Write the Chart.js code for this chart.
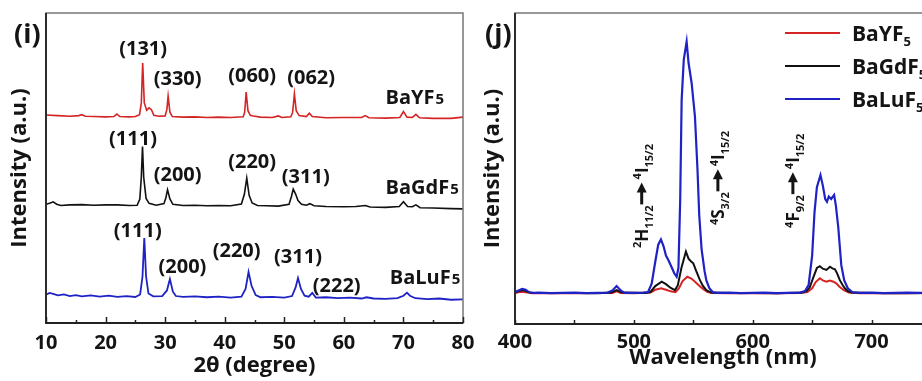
<!DOCTYPE html>
<html>
<head>
<meta charset="utf-8">
<title>BaREF5 XRD and emission spectra</title>
<script src="https://cdn.jsdelivr.net/npm/chart.js@4.4.0/dist/chart.umd.min.js"></script>
<style>
    html, body { margin: 0; padding: 0; width: 922px; height: 381px; overflow: hidden; background: #fff; }
    .panel { position: absolute; top: 0; height: 381px; }
    #panelI { left: 0; width: 480px; }
    #panelJ { left: 468px; width: 470px; }
</style>
</head>
<body>
<div class="panel" id="panelI"><canvas id="xrdChart"></canvas></div>
<div class="panel" id="panelJ"><canvas id="plChart"></canvas></div>
<script>
// ---- Panel (i): XRD patterns, [2theta, offset intensity] ----
const xrdBaYF5 = [
    [10, 67.1], [12, 66.9], [14, 66.7], [15.5, 66.9], [16, 67.2], [16.6, 66.7], [18, 66.6], [20, 66.5],
    [21.4, 66.6], [21.9, 67.4], [22.4, 66.6], [24, 66.5], [25, 66.6], [25.7, 67.2], [26.0, 71],
    [26.23, 83.9], [26.5, 71], [26.9, 68.6], [27.3, 69.4], [27.7, 68.8], [28.1, 67.0], [29, 66.7],
    [30.0, 66.8], [30.3, 69], [30.5, 73.2], [30.8, 68], [31.2, 66.6], [33, 66.4], [35, 66.5],
    [37, 66.3], [39, 66.4], [41, 66.3], [43.1, 66.5], [43.35, 68], [43.6, 74.5], [43.9, 68.5],
    [44.3, 67.0], [44.8, 66.8], [46, 66.4], [48, 66.3], [49, 66.8], [49.6, 66.3], [51.1, 66.5],
    [51.4, 68], [51.7, 73.9], [52.0, 68.5], [52.5, 66.9], [53.7, 66.6], [54.2, 67.7], [54.7, 66.6],
    [57, 66.2], [60, 66.3], [63, 66.3], [63.6, 66.9], [64.2, 66.2], [67, 66.1], [69.4, 66.3],
    [70.0, 68.2], [70.6, 66.4], [71.5, 66.3], [72.1, 67.3], [72.7, 66.2], [75, 66.0], [78, 66.0], [80, 66.4]
];
const xrdBaGdF5 = [
    [10, 38.3], [10.6, 38.6], [11.2, 39.1], [11.8, 38.3], [12.5, 37.9], [14, 38.1], [16, 38.2],
    [18, 38.0], [20, 38.1], [22, 38.1], [24, 37.9], [25.3, 38.0], [25.75, 40], [26.0, 47],
    [26.2, 56.9], [26.4, 47], [26.8, 40.2], [27.3, 38.6], [28.5, 38.0], [29.8, 38.5], [30.1, 40.2],
    [30.4, 43.0], [30.8, 40.0], [31.3, 38.3], [33, 37.9], [35, 38.0], [37, 37.8], [39, 37.9],
    [41, 37.8], [42.8, 38.4], [43.3, 41.5], [43.7, 46.7], [44.1, 41.2], [44.6, 38.7], [45.5, 37.9],
    [47, 37.8], [49, 37.7], [50.8, 38.3], [51.2, 40.8], [51.5, 43.2], [51.9, 41.6], [52.3, 39.5],
    [52.9, 38.3], [53.7, 38.0], [54.3, 38.5], [55, 37.8], [57, 37.6], [60, 37.5], [62, 37.6],
    [63.6, 37.9], [64.4, 37.4], [67, 37.3], [69.3, 37.6], [70.0, 39.1], [70.7, 37.6], [71.5, 37.5],
    [72.1, 38.1], [72.8, 37.2], [75, 37.1], [78, 36.9], [80, 36.8]
];
const xrdBaLuF5 = [
    [10, 9.1], [10.6, 9.7], [11.2, 9.4], [12, 8.9], [13, 9.2], [14, 8.7], [15, 9.0], [16, 8.6],
    [17.5, 8.9], [19, 8.5], [20.5, 8.8], [22, 8.4], [23.5, 8.7], [25, 8.4], [25.8, 9.2], [26.2, 15],
    [26.5, 27.4], [26.8, 15], [27.2, 9.5], [28, 8.6], [29.5, 8.7], [30.3, 10.5], [30.8, 14.2],
    [31.3, 10.1], [31.8, 8.7], [33, 8.4], [35, 8.6], [37, 8.3], [39, 8.5], [41, 8.2], [42.8, 8.5],
    [43.5, 11], [44.0, 16.5], [44.5, 12], [45.2, 9.0], [46, 8.3], [48, 8.4], [50, 8.2], [51.3, 8.7],
    [51.9, 11.5], [52.3, 14.5], [52.8, 11], [53.4, 8.8], [54.1, 8.5], [54.7, 9.7], [55.3, 8.2],
    [57, 8.3], [59, 8.0], [61, 8.2], [63, 7.9], [63.8, 8.3], [65, 7.9], [67, 7.8], [69, 8.0],
    [70.0, 8.8], [70.6, 9.8], [71.1, 8.8], [72, 8.0], [74, 7.7], [76, 7.9], [78, 7.5], [80, 7.6]
];
const xrdTicks = [10, 20, 30, 40, 50, 60, 70, 80];
const xrdMinorTicks = [15, 25, 35, 45, 55, 65, 75];

// ---- Panel (j): emission spectra, [wavelength nm, intensity] ----
const plBaYF5 = [
    [400, 10.0], [405, 10.4], [409, 10.2], [415, 9.9], [430, 10.0], [450, 9.9], [470, 10.0],
    [482, 10.0], [485.5, 10.5], [489, 10.0], [500, 9.9], [514, 10.1], [518, 11.0], [523, 11.5],
    [527, 11.0], [531, 10.5], [535, 10.2], [538, 11.5], [541, 13.8], [545, 15.2], [548, 14.7],
    [550, 14.1], [553, 13.0], [556, 12.0], [559, 11.0], [562, 10.3], [566, 10.0], [580, 9.9],
    [600, 10.0], [620, 9.9], [640, 10.0], [646, 10.3], [650, 11.5], [653, 13.5], [656.5, 14.7],
    [659, 14.0], [662, 13.6], [665, 14.0], [668, 13.6], [670.5, 13.0], [673, 12.0], [677, 10.8],
    [681, 10.1], [690, 9.9], [710, 10.0], [730, 9.9], [750, 10.0]
];
const plBaGdF5 = [
    [400, 10.2], [404, 10.7], [407, 10.9], [410, 10.4], [414, 10.0], [430, 10.0], [450, 10.0],
    [470, 9.9], [481, 10.1], [485.5, 10.9], [490, 10.1], [510, 10.0], [514, 10.3], [518, 12.2],
    [523.4, 13.6], [527, 12.8], [531, 11.6], [534.6, 10.9], [537, 12.5], [540, 18], [543.8, 23.3],
    [546, 21], [548, 20.2], [550, 19.5], [552.5, 17], [555.6, 14.1], [558, 12.3], [561, 10.9],
    [565, 10.1], [580, 10.0], [600, 10.0], [620, 9.9], [642, 10.1], [645.3, 10.6], [648, 11.8],
    [651, 15], [654, 18], [656.5, 18.6], [659, 17.8], [662, 17.4], [665, 18.4], [667, 17.9],
    [669.2, 17.6], [671, 16.3], [673.3, 14.1], [675.5, 12.6], [677.5, 11.5], [680, 10.6],
    [683, 10.1], [700, 10.0], [720, 9.9], [750, 10.0]
];
const plBaLuF5 = [
    [400, 10.3], [403, 10.8], [406, 11.3], [409, 11.0], [412, 10.2], [416, 10.0], [420, 10.1],
    [430, 9.9], [440, 10.0], [450, 10.1], [460, 9.9], [470, 10.0], [478, 10.1], [482, 10.8],
    [485.5, 12.2], [489, 10.8], [492, 10.0], [500, 10.0], [508, 10.1], [512, 10.3], [515, 13],
    [518, 20], [520.5, 25.5], [522.8, 27.2], [525, 25], [527, 22], [529, 20.6], [531.5, 18.5],
    [534, 16.3], [536, 15.2], [537.5, 18], [539, 40], [540.2, 72], [542, 85], [544.4, 90.8],
    [546, 84], [548.6, 77.5], [551.4, 66.7], [553.5, 50], [555, 35], [557, 24], [559.5, 17],
    [561, 14], [563.5, 11.5], [566.5, 10.2], [570, 10.0], [580, 10.1], [590, 9.9], [600, 10.0],
    [610, 10.1], [620, 9.9], [630, 10.0], [640, 10.1], [644, 10.6], [647, 12.5], [650, 22],
    [652, 36], [654, 44], [657, 47.9], [659, 44.5], [661, 40.2], [662.5, 39.3], [664, 41],
    [666, 40.2], [668.5, 41.5], [670, 38], [672, 31], [674.5, 19], [677, 14], [680, 11.5],
    [684, 10.2], [690, 10.0], [700, 10.1], [710, 9.9], [720, 10.0], [730, 10.1], [740, 10.0], [750, 10.0]
];
const plTicks = [400, 500, 600, 700];
const plMinorTicks = [450, 550, 650];

// ---- Text annotations, anchored in data units ----
const xrdPeakLabels = [
    ['(131)', 26.3, 88.2], ['(330)', 32.1, 78.5], ['(060)', 44.6, 79.7], ['(062)', 54.5, 78.9],
    ['(111)', 24.6, 59.2], ['(200)', 32.1, 47.7], ['(220)', 44.6, 51.8], ['(311)', 53.6, 46.9],
    ['(111)', 25.4, 29.7], ['(200)', 32.9, 17.9], ['(220)', 42.0, 23.1], ['(311)', 52.3, 21.1],
    ['(222)', 58.8, 11.9]
];
const xrdSampleLabels = [['BaYF', 67.0, 73.0], ['BaGdF', 67.0, 44.0], ['BaLuF', 67.7, 14.9]];
const plTransitions = [
    { nm: 506.6, level: 24.4, from: [['2', 'sup'], ['H', 'base'], ['11/2', 'sub']] },
    { nm: 570.7, level: 31.8, from: [['4', 'sup'], ['S', 'base'], ['3/2', 'sub']] },
    { nm: 633.8, level: 30.9, from: [['4', 'sup'], ['F', 'base'], ['9/2', 'sub']] }
];
const groundState = [['4', 'sup'], ['I', 'base'], ['15/2', 'sub']];
const sampleNames = ['BaYF', 'BaGdF', 'BaLuF'];

const FONT = "'Open Sans', 'DejaVu Sans', sans-serif";
const INK = '#141414';
const RED = '#d42424';
const BLACK = '#111111';
const BLUE = '#1f22c4';

Chart.defaults.font.family = FONT;
Chart.defaults.color = INK;

function toPoints(pairs) {
    return pairs.map(p => ({ x: p[0], y: p[1] }));
}

// text pieces with super/subscripts, returns drawn width
function richText(ctx, parts, x, y, size) {
    let cx = x;
    parts.forEach(([t, kind]) => {
        const s = kind === 'base' ? size : Math.round(size * 0.64);
        const dy = kind === 'sub' ? size * 0.28 : kind === 'sup' ? -size * 0.38 : 0;
        ctx.font = `bold ${s}px ${FONT}`;
        ctx.fillText(t, cx, y + dy);
        cx += ctx.measureText(t).width;
    });
    return cx - x;
}

// box, inward tick marks, panel letter, and any extra drawing
function framePlugin(cfg) {
    return {
        id: 'frame',
        afterDatasetsDraw(chart) {
            const { ctx, chartArea: a, scales: { x } } = chart;
            ctx.save();
            ctx.strokeStyle = '#777';
            ctx.lineWidth = 1.5;
            ctx.strokeRect(a.left, a.top, a.right - a.left, a.bottom - a.top);
            ctx.strokeStyle = '#222';
            ctx.lineWidth = 1.8;
            ctx.beginPath();
            ctx.moveTo(a.left, a.top);
            ctx.lineTo(a.left, a.bottom);
            ctx.lineTo(a.right, a.bottom);
            ctx.stroke();

            ctx.lineWidth = 1.5;
            const tick = (v, len) => {
                const px = Math.round(x.getPixelForValue(v)) + 0.5;
                ctx.beginPath();
                ctx.moveTo(px, a.bottom);
                ctx.lineTo(px, a.bottom - len);
                ctx.stroke();
            };
            cfg.major.forEach(v => tick(v, cfg.majorLen));
            cfg.minor.forEach(v => tick(v, cfg.minorLen));

            ctx.fillStyle = INK;
            ctx.textAlign = 'left';
            ctx.textBaseline = 'alphabetic';
            ctx.font = `bold 27px ${FONT}`;
            ctx.fillText(cfg.letter, cfg.letterX, 43);

            cfg.extra(chart, ctx);
            ctx.restore();
        }
    };
}

function drawXrdLabels(chart, ctx) {
    const { chartArea: a, scales: { x, y } } = chart;
    ctx.fillStyle = INK;
    ctx.textAlign = 'center';
    ctx.textBaseline = 'middle';
    ctx.font = `bold 20px ${FONT}`;
    xrdPeakLabels.forEach(([t, ang, v]) => {
        ctx.fillText(t, x.getPixelForValue(ang), y.getPixelForValue(v));
    });

    // sample names with a small "5", cut at the frame
    ctx.save();
    ctx.beginPath();
    ctx.rect(a.left, a.top, a.right - a.left, a.bottom - a.top);
    ctx.clip();
    ctx.textAlign = 'left';
    ctx.textBaseline = 'alphabetic';
    xrdSampleLabels.forEach(([t, ang, v]) => {
        const px = x.getPixelForValue(ang);
        const py = y.getPixelForValue(v) + 7.5;
        ctx.font = `bold 20px ${FONT}`;
        ctx.fillText(t, px, py);
        const w = ctx.measureText(t).width;
        ctx.font = `bold 15px ${FONT}`;
        ctx.fillText('5', px + w + 1, py);
    });
    ctx.restore();
}

function drawPlLabels(chart, ctx) {
    const { x, y } = chart.scales;
    const size = 17;
    const half = size * 0.36;
    ctx.fillStyle = INK;
    ctx.strokeStyle = INK;
    ctx.textAlign = 'left';
    ctx.textBaseline = 'alphabetic';

    plTransitions.forEach(tr => {
        ctx.save();
        ctx.translate(x.getPixelForValue(tr.nm), y.getPixelForValue(tr.level));
        ctx.rotate(-Math.PI / 2);
        let len = richText(ctx, tr.from, 0, half, size) + 1;
        // upward arrow
        ctx.lineWidth = 3;
        ctx.beginPath();
        ctx.moveTo(len, 0);
        ctx.lineTo(len + 14, 0);
        ctx.stroke();
        ctx.beginPath();
        ctx.moveTo(len + 22, 0);
        ctx.lineTo(len + 12, -5);
        ctx.lineTo(len + 12, 5);
        ctx.closePath();
        ctx.fill();
        richText(ctx, groundState, len + 25, half, size);
        ctx.restore();
    });

    // legend
    [RED, BLACK, BLUE].forEach((color, i) => {
        const yy = 33 + i * 33;
        ctx.strokeStyle = color;
        ctx.lineWidth = 2;
        ctx.beginPath();
        ctx.moveTo(317, yy);
        ctx.lineTo(372, yy);
        ctx.stroke();
        ctx.fillStyle = INK;
        richText(ctx, [[sampleNames[i], 'base'], ['5', 'sub']], 384, yy + 7.5, 21);
    });
}

function lineSet(label, pairs, color, width, order) {
    return {
        label: label,
        data: toPoints(pairs),
        borderColor: color,
        borderWidth: width,
        pointRadius: 0,
        tension: 0,
        fill: false,
        order: order
    };
}

function axisOptions(min, max, ticks, title, tickPad, titlePad, height) {
    return {
        type: 'linear',
        min: min,
        max: max,
        afterBuildTicks: s => { s.ticks = ticks.map(v => ({ value: v })); },
        ticks: { padding: tickPad, color: INK, font: { size: 20, weight: 'bold' } },
        grid: { display: false, drawTicks: false },
        border: { display: false },
        title: { display: true, text: title, color: INK, font: { size: 22, weight: 'bold' }, padding: { top: 0, bottom: titlePad } },
        afterFit: s => { s.height = height; s.paddingLeft = 0; s.paddingRight = 0; }
    };
}

function intensityAxis(titlePad, width) {
    return {
        min: 0,
        max: 100,
        ticks: { display: false },
        grid: { display: false, drawTicks: false },
        border: { display: false },
        title: { display: true, text: 'Intensity (a.u.)', color: INK, font: { size: 22, weight: 'bold' }, padding: { top: titlePad, bottom: 0 } },
        afterFit: s => { s.width = width; s.paddingTop = 0; s.paddingBottom = 0; }
    };
}

const baseOptions = {
    responsive: true,
    maintainAspectRatio: false,
    animation: false,
    devicePixelRatio: 1,
    plugins: { legend: { display: false }, tooltip: { enabled: false } }
};

// Panel (i)
new Chart(document.getElementById('xrdChart'), {
    type: 'line',
    data: {
        datasets: [
            lineSet('BaYF5', xrdBaYF5, RED, 1.6, 3),
            lineSet('BaGdF5', xrdBaGdF5, BLACK, 1.6, 2),
            lineSet('BaLuF5', xrdBaLuF5, BLUE, 1.8, 1)
        ]
    },
    options: Object.assign({}, baseOptions, {
        layout: { padding: { top: 13, right: 17, left: 0, bottom: 0 } },
        scales: {
            x: axisOptions(10, 80, xrdTicks, '2θ (degree)', 8, 2, 58),
            y: intensityAxis(7, 46)
        }
    }),
    plugins: [framePlugin({
        major: xrdTicks, minor: xrdMinorTicks, majorLen: 6, minorLen: 3,
        letter: '(i)', letterX: 14, extra: drawXrdLabels
    })]
});

// Panel (j)
new Chart(document.getElementById('plChart'), {
    type: 'line',
    data: {
        datasets: [
            lineSet('BaYF5', plBaYF5, RED, 2, 3),
            lineSet('BaGdF5', plBaGdF5, BLACK, 2, 2),
            lineSet('BaLuF5', plBaLuF5, BLUE, 2.2, 1)
        ]
    },
    options: Object.assign({}, baseOptions, {
        layout: { padding: { top: 13, right: 7, left: 0, bottom: 0 } },
        scales: {
            x: axisOptions(400, 750, plTicks, 'Wavelength (nm)', 6, 10, 57),
            y: intensityAxis(12, 47)
        }
    }),
    plugins: [framePlugin({
        major: plTicks, minor: plMinorTicks, majorLen: 4, minorLen: 4,
        letter: '(j)', letterX: 17, extra: drawPlLabels
    })]
});
</script>
</body>
</html>
